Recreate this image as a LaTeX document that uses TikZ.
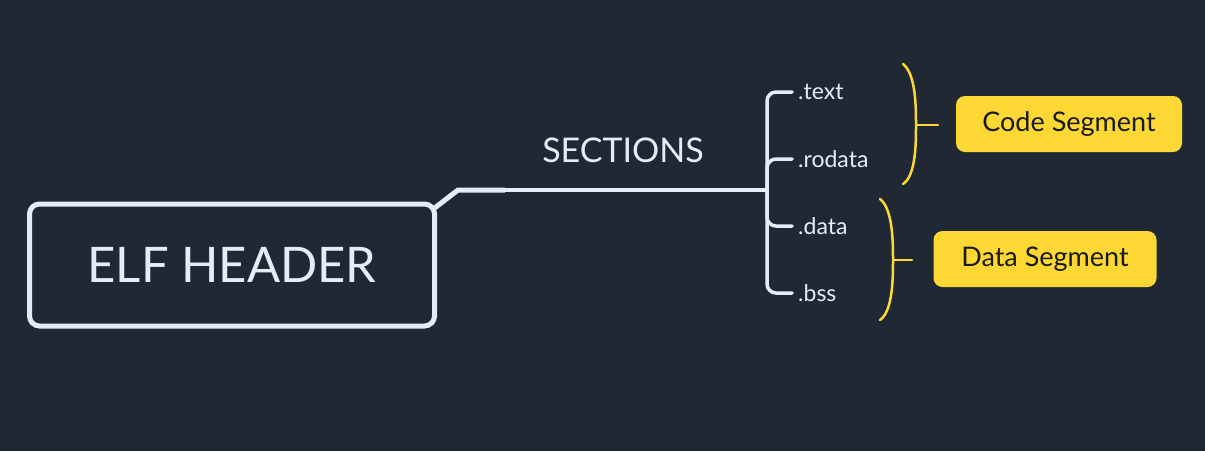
\documentclass[tikz,border=0pt]{standalone}
\usepackage{fontspec}
\setmainfont{Lato}
\usetikzlibrary{positioning}
\definecolor{bgnavy}{HTML}{1F2833}
\definecolor{linelight}{HTML}{E4EDF7}
\definecolor{segyellow}{HTML}{FDD835}
\definecolor{segtext}{HTML}{1A1A1A}

\tikzset{
  elfbox/.style={draw=linelight, line width=5pt, rounded corners=10pt,
    minimum width=405pt, minimum height=122pt, text=linelight,
    font=\fontsize{49}{52}\selectfont},
  seclabel/.style={anchor=west, inner xsep=6pt, text=linelight,
    font=\fontsize{23}{26}\selectfont},
  segbox/.style={fill=segyellow, rounded corners=9pt, text=segtext,
    minimum height=56pt, minimum width=224pt, font=\fontsize{27}{30}\selectfont},
  branch/.style={draw=linelight, line width=3.5pt, line cap=round},
  brace/.style={draw=segyellow, line width=2.5pt, line cap=round}
}

\begin{document}
\begin{tikzpicture}[x=1pt, y=-1pt]
  \fill[bgnavy] (0,0) rectangle (1205,451);
  \useasboundingbox (0,0) rectangle (1205,451);

  % header box and the sections stem
  \node[elfbox] (elf) at (232,265) {ELF HEADER};
  \node[text=linelight, font=\fontsize{34}{37}\selectfont] (sec) at (623,150) {SECTIONS};
  \coordinate (bend) at (458,190);
  \coordinate (taper) at (505,190);
  \coordinate (hub) at (767,190);
  \draw[draw=linelight, line width=5pt] ([xshift=-3pt,yshift=-7pt]elf.north east) -- (bend) -- (taper);
  \draw[branch, line cap=butt] (taper) -- (hub);

  % section names
  \node[seclabel] (txt) at (792,92)  {.text};
  \node[seclabel] (rod) at (792,159) {.rodata};
  \node[seclabel] (dat) at (792,226) {.data};
  \node[seclabel] (bss) at (792,293) {.bss};
  \draw[branch, rounded corners=9pt] (txt.west) -| (hub) |- (bss.west);
  \draw[branch, rounded corners=9pt] (hub) |- (rod.west);
  \draw[branch, rounded corners=9pt] (hub) |- (dat.west);

  % segments
  \node[segbox, minimum width=226pt] (code) at (1069,124) {Code Segment};
  \node[segbox, minimum width=223pt] (data) at (1045,259) {Data Segment};
  \coordinate (codetip) at (938,125);
  \coordinate (datatip) at (912,260);
  \draw[brace] (903,64) .. controls (916,74) and (916,108) .. (916,125)
    .. controls (916,142) and (916,176) .. (903,184);
  \draw[brace] (916,125) -- (codetip);
  \draw[brace] (880,199) .. controls (893,209) and (893,243) .. (893,260)
    .. controls (893,277) and (893,311) .. (880,320);
  \draw[brace] (893,260) -- (datatip);
\end{tikzpicture}
\end{document}
